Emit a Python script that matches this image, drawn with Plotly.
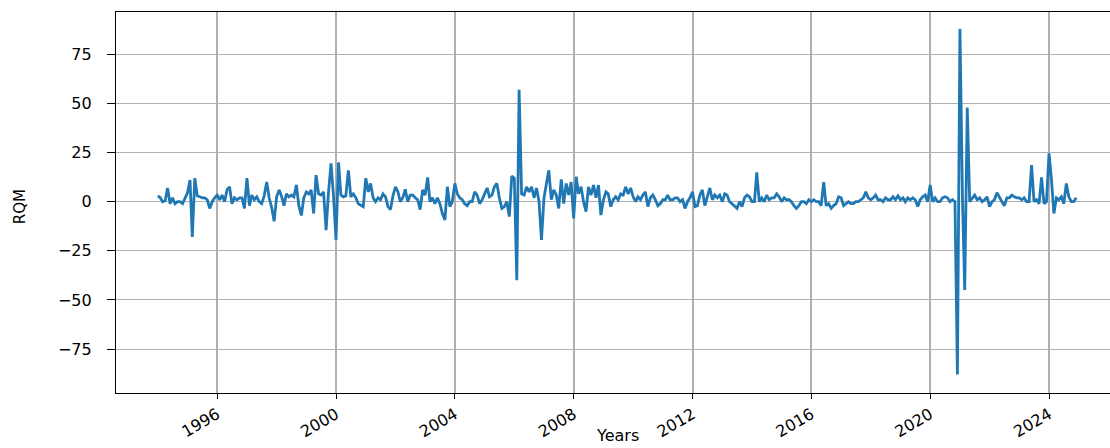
import pandas as pd
import plotly.graph_objects as go

# ---- data (monthly RQM values) ----
start_month = "1994-01-01"
rqm_values = [
    3, 2, 0, 0.5, 7, -1, 2, -1, 0, 0, -1, 2,                 # 1994
    4.5, 11, -18, 12, 3, 2.5, 2, 2, 1, -3.4, 0, 2,           # 1995
    3.4, 1, 3.4, 0, 6, 7.6, -1, 2, 1, 2, 2, -3.4,            # 1996
    12, -2, 3.4, 1, 2.5, 0, -1, 3, 10, 2, -3, -10,           # 1997
    2.5, 6, 3, -2, 4, 2.5, 3.4, 2.5, 8.5, -2, -7, 2,         # 1998
    5, 4, 6, -6, 13.5, 4, 3.4, 5, -14.5, 5, 19.5, 3,         # 1999
    -19.5, 20, 3.4, 2.5, 3, 16, 2.5, 4, 2, -1, -2, -2.5,     # 2000
    12, 5, 9.3, 2, 0, 2, 1, 4, 2.5, -2.5, -4, 3,             # 2001
    7.6, 5, 0, 2, 6.3, 0, 3.4, 3.4, 2, 1, -4, 6,             # 2002
    3.4, 12.4, 0, 2, -1, 2, -1, -6, -9.3, 7.6, -2.5, 0,      # 2003
    9.3, 4, 2, 1, -1, -2, 0, 0, 5, 3.4, -1, 1,               # 2004
    4, 7, 2.5, 3.4, 7.6, 9.3, 2, -3.4, -2.5, 0, -7.6, 13,    # 2005
    12, -40, 57, 4, 3.4, 7.6, 5, 7.6, 2, 7, 0, -19.5,        # 2006
    2, 9, 16, 1, 6, 3.4, -3.4, 11.4, -1, 9.3, 3.4, 10,       # 2007
    -8.5, 12.7, 4, 7.6, 0, -5, 7.6, 3.4, 8.5, 2, 8.5, -6.8,  # 2008
    1, 5, 4, -2.5, 1, 2.5, 1, 4, 3.4, 7.6, 4, 7,             # 2009
    2.5, 0, 2.5, 1, 3.4, 5, -2.5, 2, 3.4, 1, -2, -1,         # 2010
    1, 1, 3.4, 1, 1, 2, 2, 0, 1, -3.4, 0, 2,                 # 2011
    5, -2.5, -2, 3.4, 6, -2, 2, 7, 1, 3.4, 2, 3.4,           # 2012
    0, 4, 3.4, 0, -1, -2, -3.4, 0, -2.5, 2, 3.4, 2.5,        # 2013
    0, 0, 15, 0, 2, 0, 3.4, 1, 2, 2, 4, 2.5,                 # 2014
    0, 2, 1, 1, 0, -2, -3.4, -2, 0, 0, -1, 1,                # 2015
    0, 1, 0, 0, -2, 10, -2, -1, -3.4, -2, -1, 2.5,           # 2016
    2, -2, -1, 0, -1, -1, 0, 0, 1, 2, 5, 2,                  # 2017
    1, 2, 3.4, 1, 1, 0, 2, 1, 1, 2.5, 1, 3,                  # 2018
    1, 2, 0, 2, 1, 2, 1, -2.5, 1, 2.5, 3.4, 0,               # 2019
    8.5, 0, 2, 0, 0, 2, 2.5, 2, 0, 1, 0, -88,                # 2020
    88, 2, -45, 48, 0, 2, 3.4, 1, 2, 0, 1, 2.5,              # 2021
    -2.5, 0, 1, 4.6, 2, 0, -2, 2, 2, 3.4, 2.5, 2,            # 2022
    2, 1, 2, 0, 0, 18.7, 0, 1, -1, 12.4, -1, 0,              # 2023
    24.6, 11, -6, 2, 1, 2.5, -1, 9.3, 2.5, 0, 0, 2,          # 2024
]
x_tick_years = [1996, 2000, 2004, 2008, 2012, 2016, 2020, 2024]
y_tick_values = [-75, -50, -25, 0, 25, 50, 75]
y_tick_labels = ["\u221275", "\u221250", "\u221225", "0", "25", "50", "75"]
x_title = "Years"
y_title = "RQM"

dates = pd.date_range(start_month, periods=len(rqm_values), freq="MS")

fig = go.Figure(
    go.Scatter(
        x=dates,
        y=rqm_values,
        mode="lines",
        line=dict(color="#1f77b4", width=2.8),
        showlegend=False,
    )
)

font_family = "DejaVu Sans"

fig.update_layout(
    width=1110,
    height=448,
    margin=dict(l=116, r=0, t=12, b=55, autoexpand=False),
    paper_bgcolor="white",
    plot_bgcolor="white",
    font=dict(family=font_family, size=16, color="black"),
    annotations=[
        dict(text=x_title, xref="paper", yref="paper", x=0.505, y=-0.1405,
             xanchor="center", yanchor="bottom", showarrow=False,
             font=dict(family=font_family, size=16, color="black")),
        dict(text=y_title, xref="paper", yref="paper", x=-0.0966, y=0.49,
             xanchor="center", yanchor="middle", showarrow=False, textangle=-90,
             font=dict(family=font_family, size=15, color="black")),
    ],
)

fig.update_xaxes(
    automargin=False,
    range=["1992-08-05", "2026-01-20"],
    tickvals=[f"{y}-01-01" for y in x_tick_years],
    ticktext=[str(y) for y in x_tick_years],
    tickangle=-30,
    ticks="outside",
    ticklen=5,
    tickwidth=1.3,
    tickcolor="black",
    showgrid=True,
    gridcolor="#b0b0b0",
    gridwidth=1.5,
    showline=True,
    mirror=True,
    linecolor="black",
    linewidth=1.3,
    zeroline=False,
)

fig.update_yaxes(
    automargin=False,
    range=[-97.4, 96.6],
    tickvals=y_tick_values,
    ticktext=y_tick_labels,
    ticks="outside",
    ticklen=8,
    tickwidth=1.3,
    tickcolor="black",
    ticklabelstandoff=12,
    showgrid=True,
    gridcolor="#b0b0b0",
    gridwidth=1,
    showline=True,
    mirror=False,
    linecolor="black",
    linewidth=1.3,
    zeroline=False,
)

fig.write_html(
    "out.html",
    config={"displayModeBar": False},
    post_script="document.body.style.margin='0px';",
)
